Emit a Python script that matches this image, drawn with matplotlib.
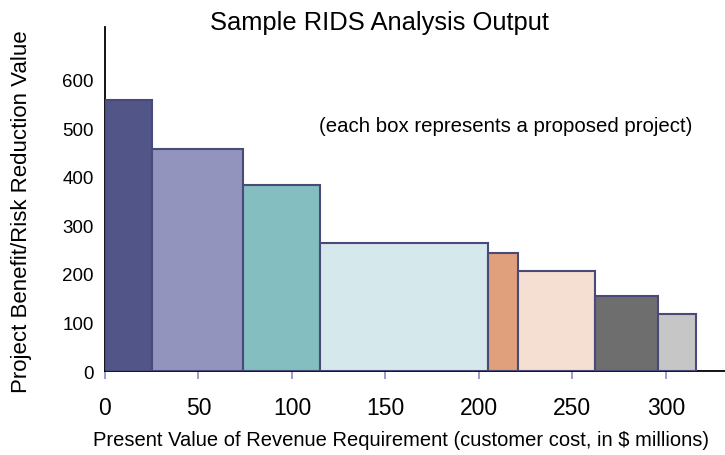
import matplotlib.pyplot as plt

# project boxes: cumulative cost edges ($M) and benefit values
cost_edges = [0, 25, 74, 115, 205, 221, 262, 296, 316]
benefit = [559, 458, 384, 263, 243, 207, 155, 117]
box_colors = ['#525587', '#9294bd', '#84bec1', '#d5e8ec',
              '#e0a07c', '#f5dfd3', '#6e6e6e', '#c6c6c6']
x_ticks = [0, 50, 100, 150, 200, 250, 300]
y_ticks = [0, 100, 200, 300, 400, 500, 600]

sans = ['Liberation Sans', 'DejaVu Sans']


def main():
    fig = plt.figure(figsize=(7.25, 4.56), dpi=100)
    ax = fig.add_axes([0.1448, 0.184, 0.8552, 0.755])

    lefts = cost_edges[:-1]
    widths = [b - a for a, b in zip(cost_edges[:-1], cost_edges[1:])]
    ax.bar(lefts, benefit, width=widths, align='edge', color=box_colors,
           edgecolor='#4a4a78', linewidth=1.5, zorder=3)

    ax.set_xlim(0, 331.6)
    ax.set_ylim(0, 709)
    ax.spines['top'].set_visible(False)
    ax.spines['right'].set_visible(False)
    ax.spines['left'].set_color('black')
    ax.spines['left'].set_linewidth(1.3)
    ax.spines['bottom'].set_color('black')
    ax.spines['bottom'].set_linewidth(1.3)

    ax.set_xticks(x_ticks)
    ax.set_xticklabels([str(t) for t in x_ticks], family=sans, fontsize=16.5)
    ax.tick_params(axis='x', direction='out', length=6, width=1.2,
                   color='#8c8cc0', pad=12)
    ax.set_yticks(y_ticks)
    ax.set_yticklabels([str(t) for t in y_ticks], family=sans, fontsize=13.5)
    ax.tick_params(axis='y', length=0, pad=8)

    fig.text(0.553, 0.033,
             'Present Value of Revenue Requirement (customer cost, in $ millions)',
             family=sans, fontsize=14.5, ha='center', va='center')
    fig.text(0.03, 0.535, 'Project Benefit/Risk Reduction Value',
             family=sans, fontsize=16, rotation=90, ha='center', va='center')

    fig.text(0.524, 0.95, 'Sample RIDS Analysis Output',
             family=sans, fontsize=18.4, ha='center', va='center')
    fig.text(0.697, 0.7215, '(each box represents a proposed project)',
             family=sans, fontsize=14.7, ha='center', va='center')

    fig.savefig('out.png', dpi=100)


if __name__ == "__main__":
    main()
